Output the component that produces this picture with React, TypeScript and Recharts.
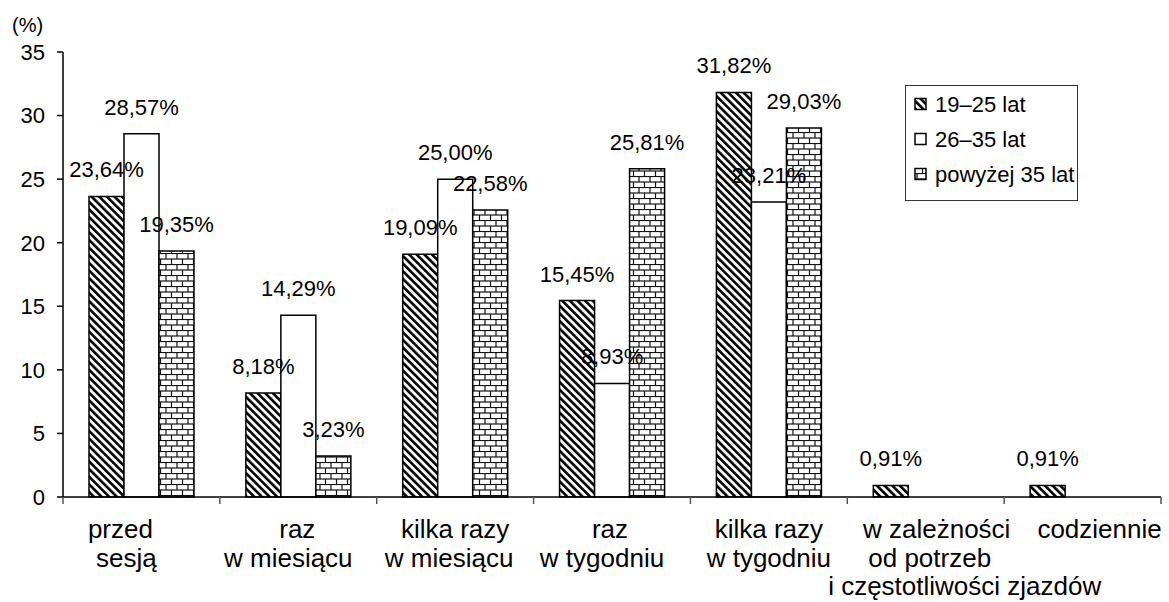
import React from 'react';
import { BarChart, Bar, XAxis, YAxis, LabelList } from 'recharts';

const categories: string[][] = [
  ['przed', 'sesją'],
  ['raz', 'w miesiącu'],
  ['kilka razy', 'w miesiącu'],
  ['raz', 'w tygodniu'],
  ['kilka razy', 'w tygodniu'],
  ['w zależności', 'od potrzeb', 'i częstotliwości zjazdów'],
  ['codziennie'],
];
const series1925: (number | null)[] = [23.64, 8.18, 19.09, 15.45, 31.82, 0.91, 0.91];
const series2635: (number | null)[] = [28.57, 14.29, 25.0, 8.93, 23.21, null, null];
const series35plus: (number | null)[] = [19.35, 3.23, 22.58, 25.81, 29.03, null, null];
const seriesNames = ['19–25 lat', '26–35 lat', 'powyżej 35 lat'];
const yTicks = [0, 5, 10, 15, 20, 25, 30, 35];

const data = categories.map((c, i) => ({
  name: c.join(' '),
  a: series1925[i],
  b: series2635[i],
  c: series35plus[i],
}));

const W = 1169;
const H = 602;
const ML = 63;
const MR = 8;
const BAND = (W - ML - MR) / categories.length;
const FONT = '"Liberation Sans", Arial, sans-serif';
// horizontal nudges of each label line (layout only)
const LINE_DX: number[][] = [
  [-21, -15],
  [-1, -10],
  [0, -6],
  [-2, -10],
  [0, 0],
  [11, 4, 39],
  [17],
];

const fmt = (v: any) => (v === null || v === undefined ? '' : Number(v).toFixed(2).replace('.', ',') + '%');

const Patterns = ({ p }: { p: string }) => (
  <defs>
    <pattern id={p + 'hatch'} patternUnits="userSpaceOnUse" width="5.4" height="5.4" patternTransform="rotate(-45)">
      <rect width="5.4" height="5.4" fill="#fff" />
      <rect width="2.6" height="5.4" fill="#000" />
    </pattern>
    <pattern id={p + 'brick'} patternUnits="userSpaceOnUse" width="11" height="11">
      <rect width="11" height="11" fill="#fff" />
      <line x1="0" y1="0.5" x2="11" y2="0.5" stroke="#111" strokeWidth="1.2" />
      <line x1="0" y1="6" x2="11" y2="6" stroke="#111" strokeWidth="1.2" />
      <line x1="1" y1="0" x2="1" y2="6" stroke="#111" strokeWidth="1.2" />
      <line x1="6.5" y1="6" x2="6.5" y2="11" stroke="#111" strokeWidth="1.2" />
    </pattern>
  </defs>
);

const CatTick = (props: any) => {
  const { x, y, payload, index } = props;
  const lines: string[] = categories[index] || [String(payload.value)];
  const dxs = LINE_DX[index] || [];
  return (
    <g>
      <line x1={x - BAND / 2} y1={y} x2={x - BAND / 2} y2={y + 7} stroke="#555" strokeWidth={1.5} />
      {index === categories.length - 1 && (
        <line x1={x + BAND / 2} y1={y} x2={x + BAND / 2} y2={y + 7} stroke="#555" strokeWidth={1.5} />
      )}
      {lines.map((l, i) => (
        <text
          key={i}
          x={x + (dxs[i] || 0)}
          y={y + 41 + i * 28.5}
          textAnchor="middle"
          fontFamily={FONT}
          fontSize={26}
          fill="#000"
        >
          {l}
        </text>
      ))}
    </g>
  );
};

const LegendBox = () => {
  const fills = ['url(#lghatch)', '#fff', 'url(#lgbrick)'];
  return (
    <div
      style={{
        position: 'absolute',
        left: 905,
        top: 85,
        width: 173,
        height: 116,
        border: '1.5px solid #333',
        background: '#fff',
        boxSizing: 'border-box',
      }}
    >
      <svg width={173} height={116} style={{ position: 'absolute', left: -1.5, top: -1.5 }}>
        <Patterns p="lg" />
        {seriesNames.map((n, i) => (
          <g key={n}>
            <rect x={10} y={13.5 + i * 35} width={11} height={11} fill={fills[i]} stroke="#000" strokeWidth={1.5} />
            <text x={30} y={27 + i * 35} fontFamily={FONT} fontSize={22} fill="#000">
              {n}
            </text>
          </g>
        ))}
      </svg>
    </div>
  );
};

export default function App() {
  return (
    <div style={{ position: 'absolute', left: 0, top: 0, width: W, height: H, background: '#fff' }}>
      <BarChart
        width={W}
        height={H}
        data={data}
        margin={{ top: 52, right: MR, bottom: 5, left: 0 }}
        barCategoryGap={26}
        barGap={0}
      >
        <Patterns p="ch" />
        <XAxis
          dataKey="name"
          height={100}
          interval={0}
          tickLine={false}
          tickSize={0}
          tickMargin={0}
          axisLine={{ stroke: '#000', strokeWidth: 1.5 }}
          tick={<CatTick />}
        />
        <YAxis
          width={ML}
          domain={[0, 35]}
          ticks={yTicks}
          interval={0}
          tickSize={6}
          tickMargin={12}
          axisLine={{ stroke: '#000', strokeWidth: 1.5 }}
          tickLine={{ stroke: '#000', strokeWidth: 1.5 }}
          tick={{ fill: '#000', fontSize: 22, fontFamily: FONT }}
        />
        <Bar dataKey="a" name={seriesNames[0]} fill="url(#chhatch)" stroke="#000" strokeWidth={1.5} isAnimationActive={false}>
          <LabelList dataKey="a" position="top" offset={19} formatter={fmt} fill="#000" fontSize={22} fontFamily={FONT} />
        </Bar>
        <Bar dataKey="b" name={seriesNames[1]} fill="#fff" stroke="#000" strokeWidth={1.5} isAnimationActive={false}>
          <LabelList dataKey="b" position="top" offset={19} formatter={fmt} fill="#000" fontSize={22} fontFamily={FONT} />
        </Bar>
        <Bar dataKey="c" name={seriesNames[2]} fill="url(#chbrick)" stroke="#000" strokeWidth={1.5} isAnimationActive={false}>
          <LabelList dataKey="c" position="top" offset={19} formatter={fmt} fill="#000" fontSize={22} fontFamily={FONT} />
        </Bar>
      </BarChart>
      <LegendBox />
      <div style={{ position: 'absolute', left: 12, top: 14, fontFamily: FONT, fontSize: 20, color: '#000' }}>(%)</div>
    </div>
  );
}
